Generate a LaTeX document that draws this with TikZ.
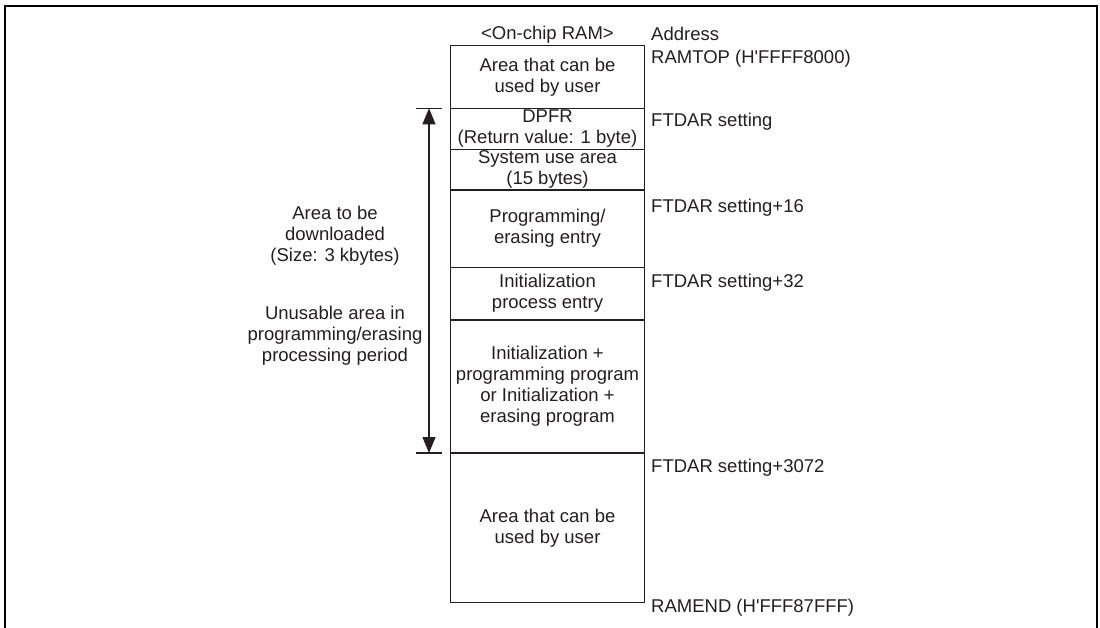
\documentclass[tikz,border=0pt]{standalone}
\usepackage{fontspec}
\setmainfont{Liberation Sans}
\usetikzlibrary{arrows.meta}
\definecolor{ink}{HTML}{231F20}
\begin{document}
\begin{tikzpicture}[x=1pt,y=-1pt,
  every node/.style={font=\fontsize{18.5}{21}\selectfont, text=ink},
  cell/.style={draw=ink, line width=1.2pt, minimum width=193.6pt, inner sep=0pt, align=center},
  addr/.style={anchor=base west, inner sep=0pt},
  sidetext/.style={align=center, inner sep=0pt},
  tick/.style={draw=ink, line width=1.2pt},
  span/.style={draw=ink, line width=1.2pt, {Triangle[length=16pt,width=13pt]}-{Triangle[length=16pt,width=13pt]}}]
\useasboundingbox (0,0) rectangle (1100,628);
% outer frame (open at the bottom)
\draw[line width=2pt, black] (5,628) -- (5,6) -- (1097,6) -- (1097,628);

% memory map cells
\node[cell, minimum height=62.6pt]  (r1) at (547.5,77)    {Area that can be\\used by user};
\node[cell, minimum height=41pt]    (r2) at (547.5,128.8) {DPFR\\(Return value: 1 byte)};
\node[cell, minimum height=40.7pt]  (r3) at (547.5,169.65) {System use area\\(15 bytes)};
\node[cell, minimum height=77.3pt]  (r4) at (547.5,228.65) {Programming/\\erasing entry};
\node[cell, minimum height=52.7pt]  (r5) at (547.5,293.65) {Initialization\\process entry};
\node[cell, minimum height=133pt]   (r6) at (547.5,386.5) {Initialization +\\programming program\\or Initialization +\\erasing program};
\node[cell, minimum height=149.7pt] (r7) at (547.5,527.85) {Area that can be\\used by user};

% header
\node[anchor=base, inner sep=0pt] (hdr) at (547.5,40) {<On-chip RAM>};

% addresses
\node[addr] (a0) at (651,40.7)  {Address};
\node[addr] (a1) at (651,64)    {RAMTOP (H\textquotesingle FFFF8000)};
\node[addr] (a2) at (651,127)   {FTDAR setting};
\node[addr] (a3) at (651,212.3) {FTDAR setting+16};
\node[addr] (a4) at (651,287.3) {FTDAR setting+32};
\node[addr] (a5) at (651,472.3) {FTDAR setting+3072};
\node[addr] (a6) at (651,612.7) {RAMEND (H\textquotesingle FFF87FFF)};

% download span
\coordinate (tl1) at (416,108.3);
\coordinate (tr1) at (442,108.3);
\coordinate (tl2) at (416,453);
\coordinate (tr2) at (442,453);
\coordinate (ttop) at (429,108.3);
\coordinate (tbot) at (429,453);
\draw[tick] (tl1) -- (tr1);
\draw[tick] (tl2) -- (tr2);
\draw[span] (ttop) -- (tbot);

\node[sidetext] (s1) at (335,235.5) {Area to be\\downloaded\\(Size: 3 kbytes)};
\node[sidetext] (s2) at (335,335.5) {Unusable area in\\programming/erasing\\processing period};
\end{tikzpicture}
\end{document}
